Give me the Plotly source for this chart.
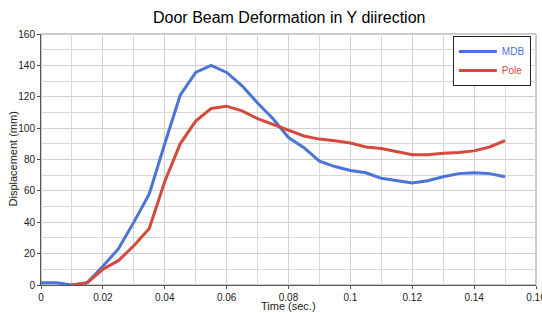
import plotly.graph_objects as go

time_mdb = [0, 0.005, 0.01, 0.015, 0.02, 0.025, 0.03, 0.035, 0.04, 0.045, 0.05, 0.055, 0.06, 0.065,
            0.07, 0.075, 0.08, 0.085, 0.09, 0.095, 0.1, 0.105, 0.11, 0.115, 0.12, 0.125, 0.13, 0.135,
            0.14, 0.145, 0.15]
mdb = [1.5, 1.5, 0, 1.5, 12, 23, 40, 58, 90, 121, 135.5, 140, 135.5, 127,
       116, 106, 94, 87.5, 79, 75.5, 73, 71.5, 68, 66.5, 65, 66.5, 69, 71,
       71.5, 71, 69]

time_pole = [0.01, 0.015, 0.02, 0.025, 0.03, 0.035, 0.04, 0.045, 0.05, 0.055, 0.06, 0.065,
             0.07, 0.075, 0.08, 0.085, 0.09, 0.095, 0.1, 0.105, 0.11, 0.115, 0.12, 0.125, 0.13, 0.135,
             0.14, 0.145, 0.15]
pole = [0, 1.5, 10, 15.5, 25, 36, 66, 90, 104.5, 112.5, 114, 111,
        106, 102.5, 98.5, 95, 93, 92, 90.5, 88, 87, 85, 83, 83, 84, 84.5,
        85.5, 88, 92]

x_ticks = [0, 0.02, 0.04, 0.06, 0.08, 0.1, 0.12, 0.14, 0.16]
x_tick_labels = ["0", "0.02", "0.04", "0.06", "0.08", "0.1", "0.12", "0.14", "0.16"]
y_ticks = [0, 20, 40, 60, 80, 100, 120, 140, 160]

BLUE = "#4a74d6"
RED = "#d44a3c"

fig = go.Figure()
fig.add_trace(go.Scatter(x=time_mdb, y=mdb, mode="lines",
                         name=f"<span style='color:{BLUE}'>MDB</span>",
                         line=dict(color=BLUE, width=3)))
fig.add_trace(go.Scatter(x=time_pole, y=pole, mode="lines",
                         name=f"<span style='color:{RED}'>Pole</span>",
                         line=dict(color=RED, width=3)))

fig.update_layout(
    width=542, height=313,
    margin=dict(l=41, r=6, t=34, b=28, autoexpand=False),
    paper_bgcolor="white", plot_bgcolor="white",
    font=dict(family="Arial, Liberation Sans, sans-serif", size=10, color="#222"),
    showlegend=True,
    legend=dict(x=0.832, y=0.992, xanchor="left", yanchor="top",
                bordercolor="#222", borderwidth=1, bgcolor="white",
                font=dict(size=10), tracegroupgap=0, itemwidth=38),
    xaxis=dict(range=[0, 0.16], tickvals=x_ticks, ticktext=x_tick_labels,
               automargin=False, ticklabelstandoff=0, ticklabeloverflow="allow",
               showgrid=True, gridcolor="#d0d0d0", gridwidth=1,
               minor=dict(dtick=0.01, showgrid=True, gridcolor="#d8d8d8", gridwidth=1),
               showline=True, linecolor="#555", linewidth=1, mirror=False,
               ticks="outside", ticklen=3, tickcolor="#555", zeroline=False),
    yaxis=dict(range=[0, 160], tickvals=y_ticks, automargin=False, ticklabelstandoff=0,
               showgrid=True, gridcolor="#d0d0d0", gridwidth=1,
               minor=dict(dtick=10, showgrid=True, gridcolor="#d8d8d8", gridwidth=1),
               showline=True, linecolor="#555", linewidth=1,
               ticks="outside", ticklen=3, tickcolor="#555", zeroline=False),
    annotations=[
        dict(text="Door Beam Deformation in Y diirection", xref="paper", yref="paper",
             x=0.5, y=1, yshift=17, xanchor="center", yanchor="middle", showarrow=False,
             font=dict(size=16, color="black")),
        dict(text="Time (sec.)", xref="paper", yref="paper", x=0.5, y=0, yshift=-21,
             xanchor="center", yanchor="middle", showarrow=False, font=dict(size=11)),
        dict(text="Displacement (mm)", xref="paper", yref="paper", x=0, xshift=-29, y=0.5,
             xanchor="center", yanchor="middle", textangle=-90, showarrow=False,
             font=dict(size=11)),
    ],
)
fig.add_shape(type="rect", xref="paper", yref="paper", x0=0, y0=0, x1=1, y1=1,
              line=dict(color="#999", width=1), layer="below")

fig.write_html("out.html", config={"displayModeBar": False},
               post_script="document.body.style.margin='0';document.body.style.overflow='hidden';")
